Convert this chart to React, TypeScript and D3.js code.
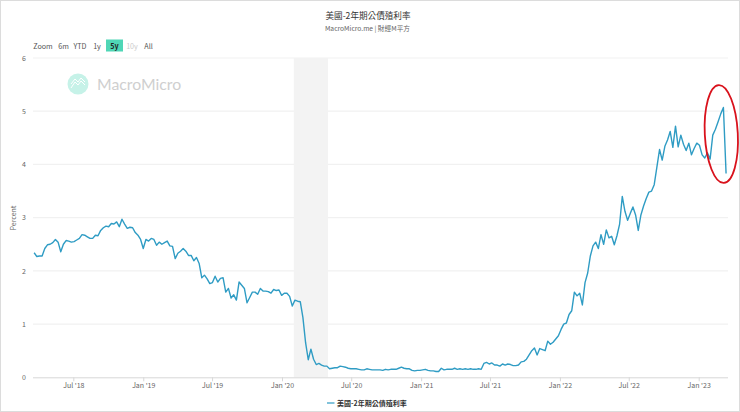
import * as d3 from 'd3';
import {useEffect, useRef} from 'react';

const TITLE = '美國-2年期公債殖利率';
const SUBTITLE = 'MacroMicro.me | 財經M平方';
const RANGE_BUTTONS = ['6m', 'YTD', '1y', '5y', '10y', 'All'];
const Y_TICKS = [0, 1, 2, 3, 4, 5, 6];
const X_TICKS = ['2018-07-01', '2019-01-01', '2019-07-01', '2020-01-01', '2020-07-01', '2021-01-01', '2021-07-01', '2022-01-01', '2022-07-01', '2023-01-01'];
const RECESSION = ['2020-02-01', '2020-05-01'];
const FIRST_WEEK = '2018-03-20';

// weekly readings, percent
const yields = [
	2.34, 2.27, 2.28, 2.28, 2.42, 2.49, 2.5, 2.53, 2.59, 2.54, 2.36, 2.5, 2.57, 2.56, 2.54, 2.55, 2.58, 2.61, 2.68, 2.67,
	2.64, 2.61, 2.61, 2.67, 2.66, 2.76, 2.81, 2.84, 2.83, 2.89, 2.88, 2.92, 2.83, 2.97, 2.88, 2.8, 2.82, 2.81, 2.72, 2.67,
	2.59, 2.42, 2.59, 2.56, 2.61, 2.59, 2.48, 2.54, 2.5, 2.53, 2.56, 2.47, 2.46, 2.23, 2.33, 2.37, 2.42, 2.37, 2.29, 2.29,
	2.19, 2.25, 2.14, 1.87, 1.92, 1.85, 1.76, 1.78, 1.9, 1.79, 1.86, 1.87, 1.6, 1.67, 1.49, 1.55, 1.45, 1.79, 1.73, 1.67,
	1.4, 1.5, 1.6, 1.6, 1.56, 1.67, 1.62, 1.62, 1.61, 1.58, 1.65, 1.63, 1.64, 1.54, 1.58, 1.58, 1.52, 1.34, 1.45, 1.43,
	1.42, 1.12, 0.65, 0.33, 0.53, 0.34, 0.24, 0.26, 0.23, 0.21, 0.21, 0.16, 0.17, 0.18, 0.18, 0.21, 0.2, 0.19, 0.17, 0.16,
	0.16, 0.16, 0.15, 0.14, 0.14, 0.16, 0.15, 0.14, 0.14, 0.14, 0.14, 0.13, 0.15, 0.14, 0.15, 0.15, 0.15, 0.17, 0.19, 0.17,
	0.16, 0.16, 0.13, 0.12, 0.13, 0.13, 0.14, 0.15, 0.13, 0.12, 0.12, 0.11, 0.11, 0.17, 0.14, 0.15, 0.15, 0.15, 0.17, 0.15,
	0.16, 0.15, 0.16, 0.15, 0.16, 0.15, 0.15, 0.16, 0.15, 0.26, 0.28, 0.25, 0.27, 0.23, 0.23, 0.21, 0.25, 0.23, 0.25, 0.24,
	0.22, 0.22, 0.23, 0.29, 0.3, 0.34, 0.42, 0.5, 0.55, 0.42, 0.54, 0.52, 0.5, 0.68, 0.62, 0.66, 0.72, 0.78, 0.9, 1.0,
	1.02, 1.18, 1.25, 1.6, 1.53, 1.58, 1.36, 1.78, 1.96, 2.28, 2.47, 2.54, 2.42, 2.68, 2.5, 2.77, 2.62, 2.65, 2.49, 2.66,
	2.88, 3.4, 3.12, 2.95, 3.08, 3.2, 3.05, 2.76, 3.05, 3.22, 3.36, 3.48, 3.5, 3.62, 3.95, 4.28, 4.08, 4.34, 4.46, 4.62,
	4.32, 4.72, 4.33, 4.55, 4.38, 4.26, 4.4, 4.18, 4.3, 4.4, 4.36, 4.18, 4.12, 4.22, 4.1, 4.55, 4.66, 4.8, 4.95, 5.07, 3.83,
];

const parseDay = d3.timeParse('%Y-%m-%d');
const FONT = '"Noto Sans CJK TC", "Noto Sans", sans-serif';

export default function App() {
	const svgRef = useRef<SVGSVGElement>(null);

	useEffect(() => {
		const width = 740;
		const height = 412;
		const svg = d3.select(svgRef.current).attr('width', width).attr('height', height).style('font-family', FONT);
		svg.selectAll('*').remove();

		const start = parseDay(FIRST_WEEK)!;
		const points = yields.map((value, i) => ({date: d3.timeDay.offset(start, i * 7), value}));

		const xScale = d3
			.scaleTime()
			.domain([parseDay(X_TICKS[0])!, parseDay(X_TICKS[X_TICKS.length - 1])!])
			.range([73.3, 698.7]);
		const yScale = d3.scaleLinear().domain([0, 6]).range([377.3, 58]);

		svg.append('rect').attr('x', 0.5).attr('y', 0.5).attr('width', width - 1).attr('height', height - 1).attr('fill', '#fff').attr('stroke', '#dcdcdc');

		// grid
		svg
			.append('g')
			.selectAll('line')
			.data(Y_TICKS.slice(1))
			.join('line')
			.attr('x1', 33)
			.attr('x2', 728)
			.attr('y1', (d) => yScale(d))
			.attr('y2', (d) => yScale(d))
			.attr('stroke', '#f1f1f1')
			.attr('stroke-width', 1.2);

		svg
			.append('rect')
			.attr('x', xScale(parseDay(RECESSION[0])!))
			.attr('y', yScale(6))
			.attr('width', xScale(parseDay(RECESSION[1])!) - xScale(parseDay(RECESSION[0])!))
			.attr('height', yScale(0) - yScale(6))
			.attr('fill', '#f3f3f3');

		// watermark
		const mark = svg.append('g');
		mark.append('circle').attr('cx', 78).attr('cy', 84).attr('r', 10.5).attr('fill', '#c6f2e8');
		mark
			.append('path')
			.attr('d', 'M71 88 L75 82 L78 85 L81 81 L85 85 M71 84 L75 79 L78 82 L81 78 L85 82')
			.attr('fill', 'none')
			.attr('stroke', '#fff')
			.attr('stroke-width', 1);
		mark
			.append('text')
			.attr('x', 97)
			.attr('y', 89.5)
			.attr('font-family', 'Lato, sans-serif')
			.attr('font-size', 15.8)
			.attr('fill', '#cfcfcf')
			.text('MacroMicro');

		// axes
		const xAxis = svg
			.append('g')
			.attr('transform', `translate(0,${yScale(0)})`)
			.call(
				d3
					.axisBottom(xScale)
					.tickValues(X_TICKS.map((d) => parseDay(d)!))
					.tickFormat((d) => d3.timeFormat("%b '%y")(d as Date))
					.tickSize(4)
					.tickSizeOuter(0),
			);
		xAxis.select('.domain').attr('stroke', '#d8d8d8').attr('d', `M33,0.5H728`);
		xAxis.selectAll('.tick line').attr('stroke', '#d8d8d8');
		xAxis.selectAll('.tick text').attr('y', 6).attr('font-size', 7).attr('font-family', FONT).attr('fill', '#666');

		const yAxis = svg
			.append('g')
			.attr('transform', 'translate(27,0)')
			.call(d3.axisLeft(yScale).tickValues(Y_TICKS).tickFormat(d3.format('d')).tickSize(0));
		yAxis.select('.domain').remove();
		yAxis.selectAll('.tick text').attr('x', -1).attr('font-size', 7).attr('font-family', FONT).attr('fill', '#666');

		svg
			.append('text')
			.attr('transform', 'translate(16,218) rotate(-90)')
			.attr('text-anchor', 'middle')
			.attr('font-size', 7)
			.attr('fill', '#666')
			.text('Percent');

		// series
		const line = d3
			.line<{date: Date; value: number}>()
			.x((d) => xScale(d.date))
			.y((d) => yScale(d.value));
		svg
			.append('path')
			.datum(points)
			.attr('d', line)
			.attr('fill', 'none')
			.attr('stroke', '#2f9cc4')
			.attr('stroke-width', 1.4)
			.attr('stroke-linejoin', 'round');

		// annotation
		svg
			.append('ellipse')
			.attr('transform', 'translate(721.3,134) rotate(-3)')
			.attr('rx', 16.5)
			.attr('ry', 49)
			.attr('fill', 'none')
			.attr('stroke', '#d9121c')
			.attr('stroke-width', 1.8);

		// titles
		svg.append('text').attr('x', 368).attr('y', 18.5).attr('text-anchor', 'middle').attr('font-size', 8.6).attr('fill', '#333').text(TITLE);
		svg.append('text').attr('x', 367.5).attr('y', 31).attr('text-anchor', 'middle').attr('font-size', 6.7).attr('fill', '#666').text(SUBTITLE);

		// range selector
		const selector = svg.append('g').attr('font-size', 7.2).attr('text-anchor', 'middle');
		selector.append('text').attr('x', 43).attr('y', 48.5).attr('fill', '#555').text('Zoom');
		const buttonX = d3.scaleOrdinal<string, number>().domain(RANGE_BUTTONS).range([63.5, 80, 97, 114.5, 132, 148.5]);
		selector.append('rect').attr('x', 106).attr('y', 39.5).attr('width', 17).attr('height', 12).attr('fill', '#4fd6b6');
		selector
			.selectAll('.range')
			.data(RANGE_BUTTONS)
			.join('text')
			.attr('class', 'range')
			.attr('x', (d) => buttonX(d))
			.attr('y', 48.5)
			.attr('font-weight', (d) => (d === '5y' ? 700 : 400))
			.attr('fill', (d) => (d === '10y' ? '#ccc' : d === '5y' ? '#222' : '#555'))
			.text((d) => d);

		// legend
		svg.append('line').attr('x1', 327).attr('x2', 334.5).attr('y1', 403).attr('y2', 403).attr('stroke', '#2f9cc4').attr('stroke-width', 1.2);
		svg.append('text').attr('x', 337).attr('y', 405.5).attr('font-size', 7).attr('font-weight', 700).attr('fill', '#333').text(TITLE);
	}, []);

	return <svg ref={svgRef} style={{position: 'absolute', left: 0, top: 0, display: 'block'}} />;
}
